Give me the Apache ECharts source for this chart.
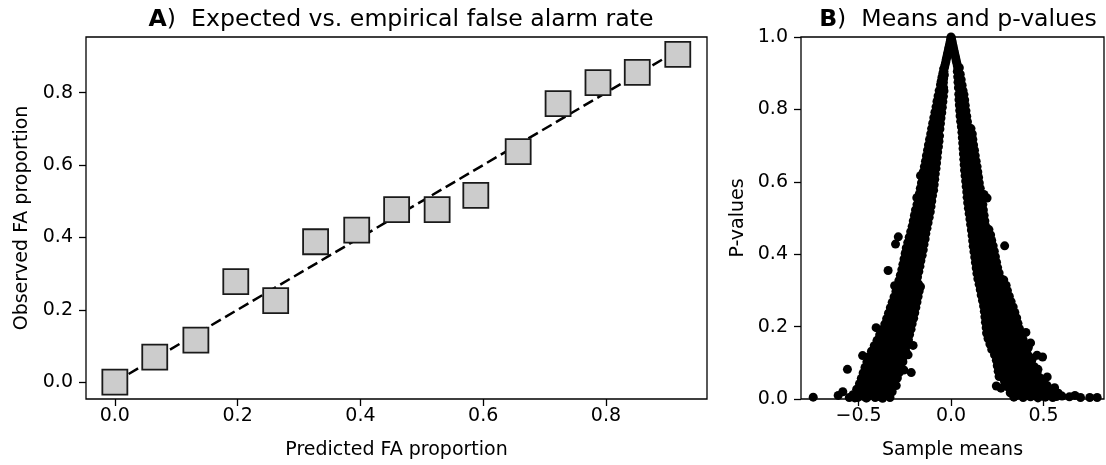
<!DOCTYPE html>
<html>
<head>
<meta charset="utf-8">
<script src="https://cdn.jsdelivr.net/npm/echarts@6/dist/echarts.min.js"></script>
<style>
  html, body { margin: 0; padding: 0; background: #fff; }
  #chart { width: 1106px; height: 465px; }
</style>
</head>
<body>
<div id="chart"></div>
<script>
// Panel A: predicted vs. observed false-alarm proportions
const predictedFA = [0, 0.065, 0.132, 0.197, 0.262, 0.327, 0.394, 0.459, 0.525, 0.588, 0.657, 0.722, 0.787, 0.851, 0.917];
const observedFA  = [0, 0.069, 0.116, 0.278, 0.225, 0.388, 0.420, 0.477, 0.477, 0.516, 0.637, 0.770, 0.828, 0.856, 0.906];
// Identity reference line (expected = observed), start and end
const identityLine = [0, 0.9];
const ticksA = [0, 0.2, 0.4, 0.6, 0.8];

// Panel B: sample means with their p-values, [mean, p]
const negativeMeans = [
  [0.0,1.0],[-0.002,0.994],[-0.005,0.986],[-0.008,0.979],[-0.011,0.972],[-0.014,0.965],[-0.017,0.958],[-0.02,0.951],[-0.023,0.944],[-0.026,0.937],[-0.029,0.930],[-0.032,0.923],[-0.035,0.916],[-0.040,0.912],[-0.038,0.905],[-0.044,0.900],[-0.036,0.895],[-0.049,0.889],[-0.040,0.885],[-0.053,0.878],[-0.041,0.874],[-0.057,0.868],[-0.047,0.864],[-0.040,0.860],
  [-0.064,0.852],[-0.050,0.848],[-0.038,0.851],
  [-0.070,0.837],[-0.055,0.833],[-0.041,0.836],
  [-0.076,0.822],[-0.060,0.818],[-0.044,0.821],
  [-0.081,0.807],[-0.064,0.803],[-0.047,0.806],
  [-0.087,0.792],[-0.069,0.788],[-0.050,0.791],
  [-0.093,0.777],[-0.074,0.773],[-0.054,0.776],
  [-0.099,0.762],[-0.079,0.758],[-0.057,0.761],
  [-0.105,0.747],[-0.084,0.743],[-0.060,0.746],
  [-0.110,0.732],[-0.090,0.728],[-0.071,0.731],[-0.062,0.727],
  [-0.116,0.717],[-0.097,0.713],[-0.079,0.716],[-0.065,0.712],
  [-0.122,0.702],[-0.103,0.698],[-0.085,0.701],[-0.068,0.697],
  [-0.127,0.687],[-0.108,0.683],[-0.090,0.686],[-0.072,0.682],
  [-0.133,0.672],[-0.113,0.668],[-0.094,0.671],[-0.075,0.667],
  [-0.138,0.657],[-0.118,0.653],[-0.098,0.656],[-0.078,0.652],
  [-0.144,0.642],[-0.123,0.638],[-0.102,0.641],[-0.081,0.637],
  [-0.150,0.627],[-0.128,0.623],[-0.106,0.626],[-0.085,0.622],[-0.165,0.617],
  [-0.155,0.612],[-0.133,0.608],[-0.110,0.611],[-0.088,0.607],
  [-0.160,0.597],[-0.138,0.593],[-0.115,0.596],[-0.091,0.592],
  [-0.166,0.582],[-0.143,0.578],[-0.120,0.581],[-0.094,0.577],
  [-0.171,0.567],[-0.148,0.563],[-0.124,0.566],[-0.100,0.562],
  [-0.176,0.552],[-0.152,0.548],[-0.128,0.551],[-0.104,0.547],[-0.185,0.556],
  [-0.184,0.537],[-0.160,0.533],[-0.134,0.536],[-0.108,0.532],
  [-0.192,0.522],[-0.166,0.518],[-0.140,0.521],[-0.112,0.517],
  [-0.198,0.507],[-0.172,0.503],[-0.146,0.506],[-0.118,0.502],
  [-0.204,0.492],[-0.178,0.488],[-0.152,0.491],[-0.124,0.487],
  [-0.210,0.477],[-0.184,0.473],[-0.158,0.476],[-0.130,0.472],
  [-0.218,0.462],[-0.190,0.458],[-0.164,0.461],[-0.136,0.457],
  [-0.226,0.447],[-0.198,0.443],[-0.170,0.446],[-0.140,0.442],[-0.285,0.448],[-0.300,0.428],
  [-0.234,0.432],[-0.205,0.428],[-0.176,0.431],[-0.146,0.427],
  [-0.242,0.417],[-0.212,0.413],[-0.182,0.416],[-0.150,0.412],
  [-0.248,0.402],[-0.218,0.398],[-0.188,0.401],[-0.156,0.397],
  [-0.254,0.387],[-0.224,0.383],[-0.194,0.386],[-0.163,0.382],
  [-0.260,0.372],[-0.230,0.368],[-0.200,0.371],[-0.168,0.367],
  [-0.266,0.357],[-0.236,0.353],[-0.206,0.356],[-0.174,0.352],[-0.340,0.355],
  [-0.274,0.342],[-0.244,0.338],[-0.213,0.341],[-0.181,0.337],
  [-0.262,0.335],[-0.230,0.334],[-0.197,0.336],
  [-0.282,0.327],[-0.250,0.323],[-0.220,0.326],[-0.188,0.322],[-0.305,0.313],
  [-0.272,0.320],[-0.240,0.319],[-0.206,0.321],[-0.176,0.318],
  [-0.290,0.312],[-0.258,0.308],[-0.226,0.311],[-0.194,0.307],[-0.165,0.310],
  [-0.281,0.305],[-0.248,0.304],[-0.214,0.306],[-0.183,0.303],
  [-0.298,0.297],[-0.266,0.293],[-0.234,0.296],[-0.200,0.292],[-0.172,0.298],
  [-0.290,0.290],[-0.256,0.289],[-0.222,0.291],[-0.190,0.288],
  [-0.308,0.282],[-0.274,0.278],[-0.242,0.281],[-0.208,0.277],[-0.178,0.283],
  [-0.300,0.275],[-0.265,0.274],[-0.231,0.276],[-0.196,0.273],
  [-0.318,0.267],[-0.284,0.263],[-0.250,0.266],[-0.216,0.262],[-0.184,0.268],
  [-0.308,0.260],[-0.274,0.259],[-0.240,0.261],[-0.203,0.258],
  [-0.328,0.252],[-0.292,0.248],[-0.258,0.251],[-0.224,0.247],[-0.190,0.253],
  [-0.316,0.245],[-0.281,0.244],[-0.246,0.246],[-0.210,0.243],
  [-0.338,0.237],[-0.300,0.233],[-0.266,0.236],[-0.230,0.232],[-0.196,0.238],
  [-0.326,0.230],[-0.290,0.229],[-0.254,0.231],[-0.218,0.228],
  [-0.348,0.222],[-0.310,0.218],[-0.274,0.221],[-0.238,0.217],[-0.202,0.223],
  [-0.336,0.215],[-0.300,0.214],[-0.262,0.216],[-0.226,0.213],
  [-0.358,0.207],[-0.320,0.203],[-0.282,0.206],[-0.245,0.202],[-0.210,0.208],
  [-0.346,0.200],[-0.308,0.199],[-0.270,0.201],[-0.234,0.198],
  [-0.372,0.192],[-0.332,0.188],[-0.292,0.191],[-0.254,0.187],[-0.216,0.193],[-0.405,0.197],
  [-0.358,0.185],[-0.318,0.184],[-0.278,0.186],[-0.240,0.183],
  [-0.386,0.177],[-0.344,0.173],[-0.302,0.176],[-0.262,0.172],[-0.224,0.178],
  [-0.370,0.170],[-0.328,0.169],[-0.288,0.171],[-0.246,0.168],
  [-0.400,0.162],[-0.356,0.158],[-0.312,0.161],[-0.270,0.157],[-0.230,0.163],[-0.205,0.148],
  [-0.384,0.155],[-0.340,0.154],[-0.298,0.156],[-0.254,0.153],
  [-0.415,0.147],[-0.370,0.143],[-0.324,0.146],[-0.280,0.142],[-0.238,0.148],
  [-0.396,0.140],[-0.350,0.139],[-0.306,0.141],[-0.262,0.138],
  [-0.430,0.132],[-0.382,0.128],[-0.336,0.131],[-0.290,0.127],[-0.245,0.133],
  [-0.410,0.125],[-0.362,0.124],[-0.316,0.126],[-0.270,0.123],[-0.232,0.122],
  [-0.445,0.117],[-0.396,0.113],[-0.350,0.116],[-0.302,0.112],[-0.255,0.118],[-0.478,0.120],
  [-0.424,0.110],[-0.374,0.109],[-0.328,0.111],[-0.280,0.108],
  [-0.455,0.102],[-0.410,0.098],[-0.360,0.101],[-0.310,0.097],[-0.260,0.103],
  [-0.436,0.095],[-0.386,0.094],[-0.338,0.096],[-0.288,0.093],
  [-0.465,0.087],[-0.420,0.083],[-0.372,0.086],[-0.325,0.082],[-0.272,0.088],[-0.560,0.082],[-0.215,0.073],
  [-0.446,0.080],[-0.398,0.079],[-0.350,0.081],[-0.300,0.078],[-0.255,0.080],
  [-0.475,0.072],[-0.430,0.068],[-0.380,0.071],[-0.335,0.067],[-0.280,0.073],
  [-0.456,0.065],[-0.408,0.064],[-0.360,0.066],[-0.312,0.063],
  [-0.485,0.057],[-0.440,0.053],[-0.390,0.056],[-0.345,0.052],[-0.290,0.058],[-0.310,0.048],
  [-0.466,0.050],[-0.418,0.049],[-0.370,0.051],[-0.322,0.049],
  [-0.495,0.042],[-0.450,0.038],[-0.400,0.041],[-0.360,0.037],[-0.320,0.043],[-0.296,0.037],
  [-0.478,0.035],[-0.430,0.034],[-0.382,0.036],[-0.342,0.033],
  [-0.510,0.027],[-0.470,0.023],[-0.420,0.026],[-0.375,0.022],[-0.335,0.028],
  [-0.492,0.020],[-0.448,0.019],[-0.400,0.021],[-0.360,0.018],[-0.318,0.020],
  [-0.530,0.012],[-0.480,0.008],[-0.435,0.011],[-0.390,0.007],[-0.350,0.012],
  [-0.505,0.004],[-0.460,0.003],[-0.410,0.004],[-0.370,0.002],[-0.330,0.004],
  [-0.745,0.005],[-0.610,0.010],[-0.585,0.020],[-0.550,0.004],[-0.520,0.003],[-0.500,0.015],[-0.455,0.003]
];
const positiveMeans = [
  [0.002,0.996],[0.005,0.989],[0.008,0.982],[0.011,0.975],[0.014,0.968],[0.017,0.961],[0.020,0.954],[0.023,0.947],[0.026,0.940],[0.029,0.933],[0.032,0.926],[0.035,0.919],[0.038,0.912],[0.045,0.915],[0.034,0.905],[0.042,0.901],[0.050,0.897],[0.036,0.890],[0.046,0.886],[0.055,0.882],[0.038,0.875],[0.050,0.871],[0.060,0.867],[0.040,0.860],[0.053,0.856],[0.065,0.852],
  [0.042,0.842],[0.056,0.838],[0.070,0.841],
  [0.043,0.827],[0.058,0.823],[0.074,0.826],
  [0.045,0.812],[0.061,0.808],[0.077,0.811],
  [0.047,0.797],[0.064,0.793],[0.081,0.796],
  [0.049,0.782],[0.067,0.778],[0.085,0.781],
  [0.052,0.767],[0.070,0.763],[0.089,0.766],
  [0.056,0.752],[0.075,0.748],[0.093,0.751],[0.108,0.747],
  [0.059,0.737],[0.078,0.733],[0.097,0.736],[0.115,0.732],
  [0.061,0.722],[0.080,0.718],[0.100,0.721],[0.118,0.717],
  [0.063,0.707],[0.083,0.703],[0.103,0.706],[0.122,0.702],
  [0.065,0.692],[0.086,0.688],[0.107,0.691],[0.127,0.687],
  [0.067,0.677],[0.089,0.673],[0.110,0.676],[0.131,0.672],
  [0.069,0.662],[0.091,0.658],[0.113,0.661],[0.136,0.657],
  [0.071,0.647],[0.094,0.643],[0.117,0.646],[0.141,0.642],
  [0.073,0.632],[0.097,0.628],[0.121,0.631],[0.145,0.627],
  [0.076,0.617],[0.100,0.613],[0.125,0.616],[0.149,0.612],
  [0.079,0.602],[0.103,0.598],[0.128,0.601],[0.153,0.597],
  [0.082,0.587],[0.107,0.583],[0.132,0.586],[0.158,0.582],
  [0.085,0.572],[0.110,0.568],[0.136,0.571],[0.163,0.567],[0.178,0.565],
  [0.087,0.557],[0.113,0.553],[0.140,0.556],[0.168,0.552],[0.195,0.555],
  [0.090,0.542],[0.117,0.538],[0.144,0.541],[0.172,0.537],
  [0.094,0.527],[0.120,0.523],[0.148,0.526],[0.175,0.522],
  [0.098,0.512],[0.124,0.508],[0.152,0.511],[0.179,0.507],
  [0.102,0.497],[0.128,0.493],[0.156,0.496],[0.183,0.492],
  [0.106,0.482],[0.132,0.478],[0.160,0.481],[0.188,0.477],
  [0.110,0.467],[0.137,0.463],[0.165,0.466],[0.194,0.462],[0.205,0.468],
  [0.114,0.452],[0.142,0.448],[0.170,0.451],[0.198,0.447],[0.214,0.453],
  [0.117,0.437],[0.146,0.433],[0.175,0.436],[0.203,0.432],[0.220,0.438],
  [0.120,0.422],[0.150,0.418],[0.180,0.421],[0.208,0.417],[0.228,0.423],[0.290,0.423],
  [0.124,0.407],[0.154,0.403],[0.184,0.406],[0.213,0.402],[0.234,0.408],
  [0.128,0.392],[0.158,0.388],[0.188,0.391],[0.218,0.387],[0.240,0.393],
  [0.132,0.377],[0.162,0.373],[0.192,0.376],[0.222,0.372],[0.246,0.378],
  [0.136,0.362],[0.166,0.358],[0.197,0.361],[0.228,0.357],[0.252,0.363],
  [0.140,0.347],[0.170,0.343],[0.200,0.346],[0.232,0.342],[0.260,0.348],
  [0.155,0.340],[0.185,0.339],[0.216,0.341],[0.246,0.338],
  [0.145,0.332],[0.176,0.328],[0.206,0.331],[0.238,0.327],[0.268,0.333],[0.285,0.329],
  [0.160,0.325],[0.191,0.324],[0.222,0.326],[0.253,0.323],[0.277,0.325],
  [0.152,0.317],[0.183,0.313],[0.214,0.316],[0.245,0.312],[0.276,0.318],[0.298,0.314],
  [0.167,0.310],[0.198,0.309],[0.230,0.311],[0.260,0.308],[0.288,0.310],
  [0.158,0.302],[0.188,0.298],[0.220,0.301],[0.252,0.297],[0.283,0.303],[0.305,0.299],
  [0.173,0.295],[0.204,0.294],[0.236,0.296],[0.268,0.293],[0.294,0.295],
  [0.163,0.287],[0.194,0.283],[0.226,0.286],[0.258,0.282],[0.290,0.288],[0.315,0.284],
  [0.178,0.280],[0.210,0.279],[0.242,0.281],[0.274,0.278],[0.302,0.280],
  [0.170,0.272],[0.200,0.268],[0.232,0.271],[0.265,0.267],[0.298,0.273],[0.325,0.269],
  [0.185,0.265],[0.216,0.264],[0.248,0.266],[0.281,0.263],[0.310,0.265],
  [0.176,0.257],[0.207,0.253],[0.240,0.256],[0.272,0.252],[0.305,0.258],[0.336,0.254],
  [0.190,0.250],[0.223,0.249],[0.256,0.251],[0.288,0.248],[0.320,0.250],
  [0.180,0.242],[0.212,0.238],[0.245,0.241],[0.278,0.237],[0.312,0.243],[0.345,0.239],
  [0.196,0.235],[0.228,0.234],[0.262,0.236],[0.295,0.233],[0.328,0.235],
  [0.183,0.227],[0.216,0.223],[0.250,0.226],[0.284,0.222],[0.318,0.228],[0.355,0.224],
  [0.200,0.220],[0.233,0.219],[0.267,0.221],[0.300,0.218],[0.336,0.220],
  [0.186,0.212],[0.220,0.208],[0.255,0.211],[0.290,0.207],[0.326,0.213],[0.362,0.209],
  [0.203,0.205],[0.238,0.204],[0.272,0.206],[0.308,0.203],[0.344,0.205],
  [0.190,0.197],[0.225,0.193],[0.260,0.196],[0.296,0.192],[0.334,0.198],[0.370,0.194],
  [0.208,0.190],[0.244,0.189],[0.280,0.191],[0.316,0.188],[0.352,0.190],
  [0.192,0.182],[0.230,0.178],[0.266,0.181],[0.304,0.177],[0.342,0.183],[0.380,0.179],[0.405,0.184],
  [0.212,0.175],[0.250,0.174],[0.286,0.176],[0.324,0.173],[0.362,0.175],
  [0.200,0.167],[0.238,0.163],[0.275,0.166],[0.312,0.162],[0.350,0.168],[0.390,0.164],
  [0.218,0.160],[0.256,0.159],[0.294,0.161],[0.330,0.158],[0.370,0.160],
  [0.210,0.152],[0.246,0.148],[0.284,0.151],[0.322,0.147],[0.360,0.153],[0.400,0.149],[0.430,0.155],
  [0.228,0.145],[0.265,0.144],[0.302,0.146],[0.340,0.143],[0.380,0.145],[0.418,0.142],
  [0.220,0.137],[0.256,0.133],[0.294,0.136],[0.332,0.132],[0.370,0.138],[0.410,0.134],
  [0.238,0.130],[0.275,0.129],[0.312,0.131],[0.350,0.128],[0.390,0.130],
  [0.235,0.122],[0.270,0.118],[0.306,0.121],[0.342,0.117],[0.380,0.123],[0.420,0.119],[0.465,0.121],[0.495,0.116],
  [0.250,0.115],[0.288,0.114],[0.324,0.116],[0.360,0.113],[0.400,0.115],[0.440,0.112],
  [0.245,0.107],[0.282,0.103],[0.318,0.106],[0.356,0.102],[0.394,0.108],[0.435,0.104],
  [0.262,0.100],[0.300,0.099],[0.336,0.101],[0.375,0.098],[0.414,0.100],
  [0.250,0.092],[0.290,0.088],[0.330,0.091],[0.370,0.087],[0.410,0.093],[0.450,0.089],
  [0.270,0.085],[0.310,0.084],[0.350,0.086],[0.390,0.083],[0.430,0.085],[0.470,0.082],
  [0.255,0.077],[0.300,0.073],[0.342,0.076],[0.385,0.072],[0.425,0.078],[0.465,0.074],
  [0.278,0.070],[0.320,0.069],[0.362,0.071],[0.405,0.068],[0.445,0.070],
  [0.260,0.062],[0.310,0.058],[0.355,0.061],[0.400,0.057],[0.440,0.063],[0.480,0.059],[0.520,0.061],
  [0.285,0.055],[0.332,0.054],[0.378,0.056],[0.420,0.053],[0.460,0.055],[0.500,0.052],
  [0.245,0.036],[0.270,0.030],
  [0.290,0.047],[0.335,0.043],[0.380,0.046],[0.420,0.042],[0.460,0.048],[0.500,0.044],
  [0.300,0.040],[0.355,0.039],[0.400,0.041],[0.440,0.038],[0.480,0.040],[0.520,0.037],
  [0.310,0.032],[0.350,0.028],[0.395,0.031],[0.440,0.027],[0.480,0.033],[0.520,0.029],[0.560,0.031],
  [0.330,0.022],[0.375,0.021],[0.420,0.023],[0.465,0.020],[0.510,0.022],[0.550,0.019],
  [0.320,0.017],[0.365,0.013],[0.410,0.016],[0.455,0.012],[0.500,0.018],[0.540,0.014],[0.580,0.016],
  [0.355,0.010],[0.400,0.009],[0.445,0.011],[0.490,0.008],[0.530,0.010],[0.570,0.007],
  [0.340,0.005],[0.390,0.004],[0.430,0.006],[0.470,0.003],[0.510,0.005],[0.550,0.004],[0.600,0.008],[0.640,0.006],[0.670,0.010],[0.700,0.004],[0.750,0.004],[0.790,0.004]
];
const meanTicks = [-0.5, 0, 0.5];
const pTicks = [0, 0.2, 0.4, 0.6, 0.8, 1.0];

const FONT = 'DejaVu Sans';
const TXT = '#000';
const FS = 19;

function fmt(v) {
  const s = Math.abs(v).toFixed(1);
  return v < 0 ? '\u2212' + s : s;
}

function valueAxis(gridIndex, min, max, ticks, name, gap, labelMargin) {
  return {
    type: 'value', gridIndex, min, max,
    name, nameLocation: 'middle', nameGap: gap,
    nameTextStyle: { fontFamily: FONT, fontSize: FS, color: TXT },
    axisLine: { show: false, onZero: false },
    axisTick: { show: true, length: 7, customValues: ticks, lineStyle: { color: '#000', width: 1.3 } },
    axisLabel: { customValues: ticks, formatter: fmt, fontFamily: FONT, fontSize: FS, color: TXT, margin: labelMargin },
    splitLine: { show: false }
  };
}

const chart = echarts.init(document.getElementById('chart'), null, { renderer: 'canvas' });

const titleStyle = {
  fontFamily: FONT, fontSize: 23.6, fontWeight: 'normal', color: TXT,
  rich: { b: { fontFamily: FONT, fontSize: 23.6, fontWeight: 'bold', color: TXT } }
};

chart.setOption({
  animation: false,
  backgroundColor: '#fff',
  title: [
    { text: '{b|A})  Expected vs. empirical false alarm rate', left: 396, top: 3, textAlign: 'center', textStyle: titleStyle },
    { text: '{b|B})  Means and p-values', left: 953, top: 3, textAlign: 'center', textStyle: titleStyle }
  ],
  grid: [
    { left: 86, top: 37, width: 621, height: 364, show: true, borderColor: '#000', borderWidth: 1.3, backgroundColor: 'transparent' },
    { left: 801, top: 37, width: 303, height: 364, show: true, borderColor: '#000', borderWidth: 1.3, backgroundColor: 'transparent' }
  ],
  xAxis: [
    valueAxis(0, -0.047, 0.9646, ticksA, 'Predicted FA proportion', 42, 8),
    valueAxis(1, -0.811, 0.827, meanTicks, 'Sample means', 42, 8)
  ],
  yAxis: [
    valueAxis(0, -0.0467, 0.954, ticksA, 'Observed FA proportion', 53, 13),
    valueAxis(1, 0, 1, pTicks, 'P-values', 53, 13)
  ],
  series: [
    {
      type: 'line', xAxisIndex: 0, yAxisIndex: 0, z: 1,
      data: identityLine.map(v => [v, v]),
      symbol: 'none', silent: true,
      lineStyle: { color: '#000', width: 2.5, type: [11, 5] }
    },
    {
      type: 'scatter', xAxisIndex: 0, yAxisIndex: 0, z: 2,
      data: predictedFA.map((x, i) => [x, observedFA[i]]),
      symbol: 'rect', symbolSize: 25,
      itemStyle: { color: '#cccccc', borderColor: '#1a1a1a', borderWidth: 1.8, opacity: 1 }
    },
    {
      type: 'scatter', xAxisIndex: 1, yAxisIndex: 1, z: 2,
      data: negativeMeans.concat(positiveMeans),
      symbol: 'circle', symbolSize: 9, clip: true,
      itemStyle: { color: '#000', opacity: 1 }
    }
  ]
});
</script>
</body>
</html>
